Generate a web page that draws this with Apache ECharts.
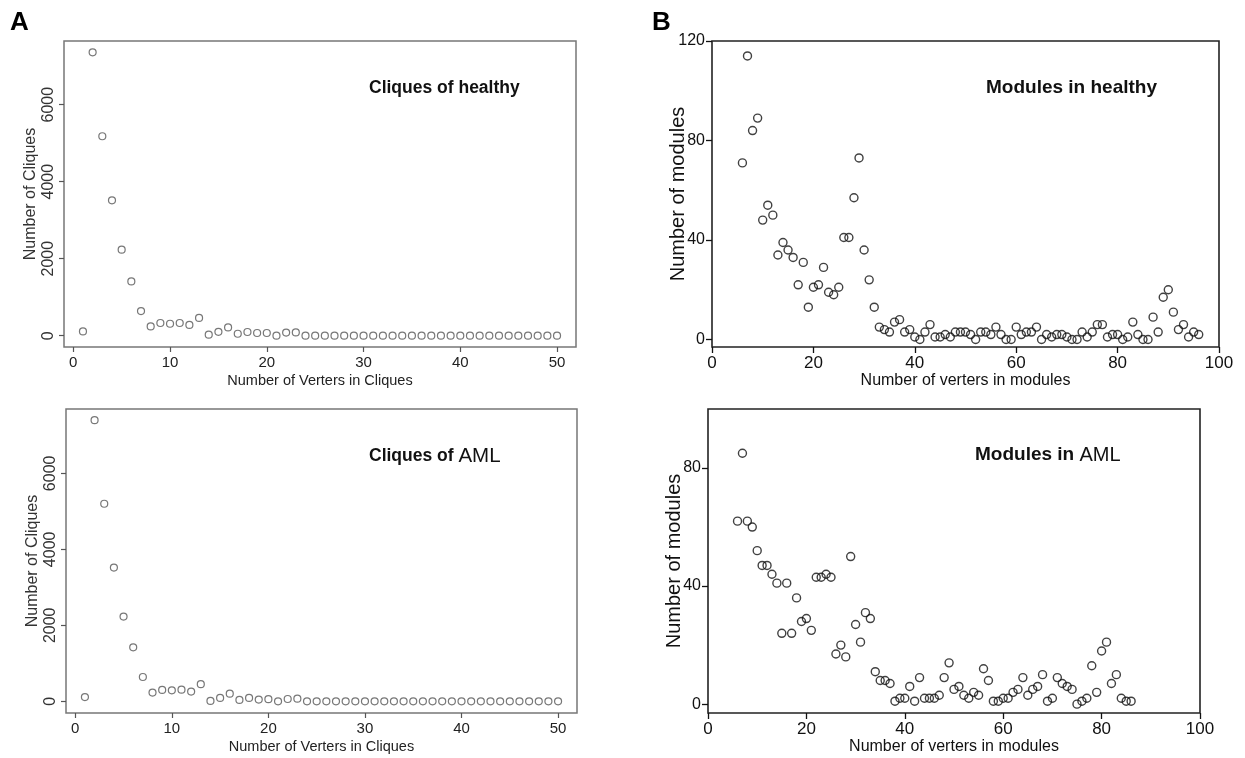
<!DOCTYPE html>
<html>
<head>
<meta charset="utf-8">
<script src="https://cdn.jsdelivr.net/npm/echarts@6/dist/echarts.min.js"></script>
<style>
html,body{margin:0;padding:0;background:#fff;}
#chart{width:1245px;height:758px;}
</style>
</head>
<body>
<div id="chart"></div>
<script>
// ---- data ----
const cliqueSizes = [1,2,3,4,5,6,7,8,9,10,11,12,13,14,15,16,17,18,19,20,21,22,23,24,25,26,27,28,29,30,31,32,33,34,35,36,37,38,39,40,41,42,43,44,45,46,47,48,49,50];
const healthyCliqueCounts = [110,7360,5180,3515,2235,1410,640,240,330,310,330,280,460,25,100,215,50,95,70,70,0,80,85,0,0,0,0,0,0,0,0,0,0,0,0,0,0,0,0,0,0,0,0,0,0,0,0,0,0,0];
const amlCliqueCounts = [110,7400,5200,3520,2230,1420,640,230,300,290,305,255,450,10,90,200,35,90,45,55,0,60,70,0,0,0,0,0,0,0,0,0,0,0,0,0,0,0,0,0,0,0,0,0,0,0,0,0,0,0];

const healthyModuleSizes = [6,7,8,9,10,11,12,13,14,15,16,17,18,19,20,21,22,23,24,25,26,27,28,29,30,31,32,33,34,35,36,37,38,39,40,41,42,43,44,45,46,47,48,49,50,51,52,53,54,55,56,57,58,59,60,61,62,63,64,65,66,67,68,69,70,71,72,73,74,75,76,77,78,79,80,81,82,83,84,85,86,87,88,89,90,91,92,93,94,95,96];
const healthyModuleCounts = [71,114,84,89,48,54,50,34,39,36,33,22,31,13,21,22,29,19,18,21,41,41,57,73,36,24,13,5,4,3,7,8,3,4,1,0,3,6,1,1,2,1,3,3,3,2,0,3,3,2,5,2,0,0,5,2,3,3,5,0,2,1,2,2,1,0,0,3,1,3,6,6,1,2,2,0,1,7,2,0,0,9,3,17,20,11,4,6,1,3,2];

const amlModuleSizes = [6,7,8,9,10,11,12,13,14,15,16,17,18,19,20,21,22,23,24,25,26,27,28,29,30,31,32,33,34,35,36,37,38,39,40,41,42,43,44,45,46,47,48,49,50,51,52,53,54,55,56,57,58,59,60,61,62,63,64,65,66,67,68,69,70,71,72,73,74,75,76,77,78,79,80,81,82,83,84,85,86];
const amlModuleCounts = [62,85,62,60,52,47,47,44,41,24,41,24,36,28,29,25,43,43,44,43,17,20,16,50,27,21,31,29,11,8,8,7,1,2,2,6,1,9,2,2,2,3,9,14,5,6,3,2,4,3,12,8,1,1,2,2,4,5,9,3,5,6,10,1,2,9,7,6,5,0,1,2,13,4,18,21,7,10,2,1,1];

const cliqueTicksX = [0,10,20,30,40,50];
const cliqueTicksY = [0,2000,4000,6000];
const moduleTicksX = [0,20,40,60,80,100];
const moduleTicksYHealthy = [0,40,80,120];
const moduleTicksYAml = [0,40,80];

// ---- styles ----
const ARIAL = "'Liberation Sans', Arial, Helvetica, sans-serif";
const plain = v => String(v);

function zip(xs, ys){ return xs.map((x,i)=>[x, ys[i]]); }

function xAxisA(grid){
  return {
    type:'value', gridIndex:grid, min:-0.96, max:51.96,
    splitLine:{show:false}, axisLine:{show:false, onZero:false},
    axisTick:{show:true, length:5, customValues:cliqueTicksX, lineStyle:{color:'#555', width:1.2}},
    axisLabel:{customValues:cliqueTicksX, formatter:plain, margin:8, fontFamily:ARIAL, fontSize:15, color:'#222'},
    name:'Number of Verters in Cliques', nameLocation:'middle', nameGap:26, nameMoveOverlap:false,
    nameTextStyle:{fontFamily:ARIAL, fontSize:14.5, color:'#222'}
  };
}
function yAxisA(grid, min, max){
  return {
    type:'value', gridIndex:grid, min:min, max:max,
    splitLine:{show:false}, axisLine:{show:false, onZero:false},
    axisTick:{show:true, length:5, customValues:cliqueTicksY, lineStyle:{color:'#555', width:1.2}},
    axisLabel:{customValues:cliqueTicksY, formatter:plain, rotate:90, margin:7, fontFamily:ARIAL, fontSize:16, color:'#333'},
    name:'Number of Cliques', nameLocation:'middle', nameGap:25, nameRotate:90, nameMoveOverlap:false,
    nameTextStyle:{fontFamily:ARIAL, fontSize:16, color:'#333'}
  };
}
function xAxisB(grid){
  return {
    type:'value', gridIndex:grid, min:0, max:100,
    splitLine:{show:false}, axisLine:{show:false, onZero:false},
    axisTick:{show:true, length:6, customValues:moduleTicksX, lineStyle:{color:'#111', width:1.3}},
    axisLabel:{customValues:moduleTicksX, formatter:plain, margin:8, fontFamily:ARIAL, fontSize:17, color:'#111'},
    name:'Number of verters in modules', nameLocation:'middle', nameGap:26, nameMoveOverlap:false,
    nameTextStyle:{fontFamily:ARIAL, fontSize:16, color:'#111'}
  };
}
function yAxisB(grid, max, ticks){
  return {
    type:'value', gridIndex:grid, min:-3, max:max,
    splitLine:{show:false}, axisLine:{show:false, onZero:false},
    axisTick:{show:true, length:6, customValues:ticks, lineStyle:{color:'#111', width:1.3}},
    axisLabel:{customValues:ticks, formatter:plain, margin:7, fontFamily:ARIAL, fontSize:16, color:'#111'},
    name:'Number of modules', nameLocation:'middle', nameGap:24, nameRotate:90, nameMoveOverlap:false,
    nameTextStyle:{fontFamily:ARIAL, fontSize:20, color:'#111'}
  };
}
function scatter(idx, data, color, size, bw){
  return {
    type:'scatter', xAxisIndex:idx, yAxisIndex:idx, data:data,
    symbol:'circle', symbolSize:size, silent:true, animation:false,
    itemStyle:{color:'rgba(0,0,0,0)', borderColor:color, borderWidth:bw}
  };
}

const chart = echarts.init(document.getElementById('chart'), null, {renderer:'canvas'});
chart.setOption({
  backgroundColor:'#fff',
  animation:false,
  title:[
    {text:'A', left:5, top:5, textStyle:{fontFamily:ARIAL, fontWeight:'bold', fontSize:26, color:'#000'}},
    {text:'B', left:647, top:5, textStyle:{fontFamily:ARIAL, fontWeight:'bold', fontSize:26, color:'#000'}},
    {text:'Cliques of healthy', left:364, top:74, textStyle:{fontFamily:ARIAL, fontWeight:'bold', fontSize:17.5, color:'#111'}},
    {text:'{b|Cliques of }{n|AML}', left:364, top:441, textStyle:{rich:{
      b:{fontFamily:ARIAL, fontWeight:'bold', fontSize:17.5, color:'#111'},
      n:{fontFamily:ARIAL, fontWeight:'normal', fontSize:20.5, color:'#111'}}}},
    {text:'Modules in healthy', left:981, top:73, textStyle:{fontFamily:ARIAL, fontWeight:'bold', fontSize:19, color:'#111'}},
    {text:'{b|Modules in }{n|AML}', left:970, top:440, textStyle:{rich:{
      b:{fontFamily:ARIAL, fontWeight:'bold', fontSize:19, color:'#111'},
      n:{fontFamily:ARIAL, fontWeight:'normal', fontSize:20, color:'#111'}}}}
  ],
  grid:[
    {left:64, top:41, width:512, height:306, show:true, borderColor:'#777', borderWidth:1.5, backgroundColor:'transparent'},
    {left:66, top:409, width:511, height:304, show:true, borderColor:'#777', borderWidth:1.5, backgroundColor:'transparent'},
    {left:712, top:41, width:507, height:306, show:true, borderColor:'#222', borderWidth:1.6, backgroundColor:'transparent'},
    {left:708, top:409, width:492, height:304, show:true, borderColor:'#222', borderWidth:1.6, backgroundColor:'transparent'}
  ],
  xAxis:[xAxisA(0), xAxisA(1), xAxisB(2), xAxisB(3)],
  yAxis:[yAxisA(0,-294,7654), yAxisA(1,-308,7694), yAxisB(2,120,moduleTicksYHealthy), yAxisB(3,100,moduleTicksYAml)],
  series:[
    scatter(0, zip(cliqueSizes, healthyCliqueCounts), '#555', 7, 1.2),
    scatter(1, zip(cliqueSizes, amlCliqueCounts), '#555', 7, 1.2),
    scatter(2, zip(healthyModuleSizes, healthyModuleCounts), '#111', 8, 1.4),
    scatter(3, zip(amlModuleSizes, amlModuleCounts), '#111', 8, 1.4)
  ]
});
</script>
</body>
</html>
